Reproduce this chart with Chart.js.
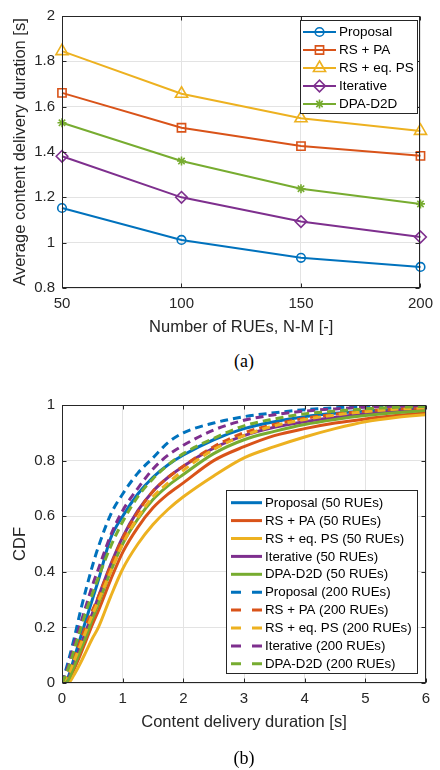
<!DOCTYPE html>
<html lang="en">
<head>
<meta charset="UTF-8" />
<title>Content delivery duration</title>
<style>
  body {
    margin: 0;
    background: #fff;
    width: 440px;
    height: 770px;
    position: relative;
    overflow: hidden;
    font-family: 'Liberation Sans', Arial, sans-serif;
  }
  .panel { position: absolute; left: 0; width: 440px; }
  #wrapA { top: 0; height: 345px; }
  #wrapB { top: 380px; height: 390px; }
  .caption {
    position: absolute;
    left: 62px;
    width: 364px;
    text-align: center;
    font-family: 'Liberation Serif', 'Times New Roman', serif;
    font-size: 18px;
    line-height: 22px;
    color: #000;
  }
</style>
<script src="https://cdn.jsdelivr.net/npm/chart.js"></script>
</head>
<body>
<div class="panel" id="wrapA"><canvas id="chartA" width="440" height="345"></canvas></div>
<div class="caption" style="top:350px">(a)</div>
<div class="panel" id="wrapB"><canvas id="chartB" width="440" height="390"></canvas></div>
<div class="caption" style="top:747px">(b)</div>

<script>
// ---- (a) average duration vs number of RUEs ----
const rueCounts = [50, 100, 150, 200];
const durProposal = [1.153, 1.012, 0.933, 0.893];
const durRsPa = [1.661, 1.507, 1.426, 1.383];
const durRsEqPs = [1.845, 1.657, 1.549, 1.493];
const durIterative = [1.381, 1.200, 1.093, 1.025];
const durDpaD2d = [1.529, 1.360, 1.238, 1.171];
const xTicksA = [50, 100, 150, 200];
const yTicksA = [0.8, 1, 1.2, 1.4, 1.6, 1.8, 2];

// ---- (b) CDF of content delivery duration ----
const cdfTimes = [0, 0.1, 0.2, 0.3, 0.4, 0.5, 0.6, 0.8, 1.0, 1.25, 1.5, 1.75, 2, 2.5, 3, 3.5, 4, 4.5, 5, 5.5, 6];
const cdfProposal50  = [0, 0.02, 0.09, 0.16, 0.23, 0.30, 0.37, 0.52, 0.60, 0.68, 0.74, 0.785, 0.82, 0.875, 0.915, 0.94, 0.958, 0.97, 0.978, 0.985, 0.99];
const cdfRsPa50      = [0, 0, 0.05, 0.10, 0.155, 0.21, 0.26, 0.37, 0.47, 0.56, 0.63, 0.68, 0.72, 0.80, 0.85, 0.89, 0.915, 0.935, 0.95, 0.962, 0.972];
const cdfRsEqPs50    = [0, 0, 0.03, 0.07, 0.115, 0.16, 0.20, 0.31, 0.41, 0.50, 0.57, 0.625, 0.67, 0.745, 0.81, 0.85, 0.885, 0.915, 0.94, 0.955, 0.965];
const cdfIterative50 = [0, 0.015, 0.07, 0.13, 0.19, 0.25, 0.31, 0.425, 0.525, 0.62, 0.69, 0.74, 0.78, 0.845, 0.89, 0.92, 0.94, 0.956, 0.968, 0.978, 0.985];
const cdfDpaD2d50    = [0, 0.01, 0.06, 0.115, 0.17, 0.23, 0.285, 0.40, 0.50, 0.59, 0.66, 0.71, 0.75, 0.825, 0.875, 0.905, 0.93, 0.948, 0.962, 0.972, 0.98];
const cdfProposal200  = [0, 0.075, 0.16, 0.255, 0.34, 0.42, 0.49, 0.605, 0.68, 0.755, 0.81, 0.865, 0.90, 0.935, 0.958, 0.972, 0.983, 0.99, 0.995, 0.998, 1.0];
const cdfRsPa200      = [0, 0.035, 0.09, 0.15, 0.21, 0.26, 0.31, 0.42, 0.52, 0.615, 0.69, 0.74, 0.78, 0.85, 0.90, 0.93, 0.952, 0.967, 0.978, 0.986, 0.99];
const cdfRsEqPs200    = [0, 0.03, 0.08, 0.135, 0.19, 0.245, 0.295, 0.40, 0.50, 0.595, 0.67, 0.72, 0.765, 0.84, 0.89, 0.925, 0.948, 0.964, 0.976, 0.985, 0.99];
const cdfIterative200 = [0, 0.06, 0.14, 0.21, 0.28, 0.35, 0.41, 0.53, 0.62, 0.70, 0.77, 0.82, 0.855, 0.91, 0.945, 0.965, 0.978, 0.986, 0.992, 0.996, 0.998];
const cdfDpaD2d200    = [0, 0.05, 0.12, 0.19, 0.26, 0.32, 0.38, 0.49, 0.58, 0.67, 0.735, 0.785, 0.825, 0.88, 0.925, 0.95, 0.968, 0.978, 0.986, 0.992, 0.995];
const xTicksB = [0, 1, 2, 3, 4, 5, 6];
const yTicksB = [0, 0.2, 0.4, 0.6, 0.8, 1];

const schemes = ['Proposal', 'RS + PA', 'RS + eq. PS', 'Iterative', 'DPA-D2D'];
const colors = ['#0072BD', '#D95319', '#EDB120', '#7E2F8E', '#77AC30'];

const INK = '#262626';
const GRID = '#e3e3e3';
const FONT = "'Liberation Sans', Arial, sans-serif";

// box around the plot with inward tick marks on all four sides
function drawFrame(chart) {
  const { ctx, chartArea: a, scales } = chart;
  const L = Math.round(a.left) + 0.5, R = Math.round(a.right) - 0.5;
  const T = Math.round(a.top) + 0.5, B = Math.round(a.bottom) - 0.5;
  ctx.save();
  ctx.strokeStyle = INK;
  ctx.lineWidth = 1;
  ctx.setLineDash([]);
  ctx.strokeRect(L, T, R - L, B - T);
  ctx.beginPath();
  scales.x.ticks.forEach(t => {
    const px = Math.round(scales.x.getPixelForValue(t.value)) + 0.5;
    ctx.moveTo(px, B); ctx.lineTo(px, B - 4);
    ctx.moveTo(px, T); ctx.lineTo(px, T + 4);
  });
  scales.y.ticks.forEach(t => {
    const py = Math.round(scales.y.getPixelForValue(t.value)) + 0.5;
    ctx.moveTo(L, py); ctx.lineTo(L + 4, py);
    ctx.moveTo(R, py); ctx.lineTo(R - 4, py);
  });
  ctx.stroke();
  ctx.restore();
}

// legend box inside the plot, styled from the datasets
function drawLegend(chart, box) {
  const ctx = chart.ctx;
  ctx.save();
  ctx.fillStyle = '#fff';
  ctx.fillRect(box.x0, box.y0, box.x1 - box.x0, box.y1 - box.y0);
  ctx.strokeStyle = INK;
  ctx.lineWidth = 1;
  ctx.strokeRect(box.x0 + 0.5, box.y0 + 0.5, box.x1 - box.x0, box.y1 - box.y0);
  chart.data.datasets.forEach((ds, i) => {
    const y = box.first + box.step * i;
    ctx.strokeStyle = ds.borderColor;
    ctx.lineWidth = ds.borderWidth;
    ctx.setLineDash(ds.borderDash && ds.borderDash.length ? box.dash : []);
    ctx.beginPath();
    ctx.moveTo(box.lineX0, y);
    ctx.lineTo(box.lineX1, y);
    ctx.stroke();
    ctx.setLineDash([]);
    if (ds.pointRadius > 0 && Chart.helpers && Chart.helpers.drawPoint) {
      ctx.fillStyle = 'rgba(0,0,0,0)';
      ctx.lineWidth = ds.pointBorderWidth;
      Chart.helpers.drawPoint(ctx, {
        pointStyle: ds.pointStyle, radius: ds.pointRadius, rotation: 0,
        borderWidth: ds.pointBorderWidth
      }, (box.lineX0 + box.lineX1) / 2, y);
    }
    ctx.fillStyle = '#000';
    ctx.font = box.font + 'px ' + FONT;
    ctx.textBaseline = 'middle';
    ctx.textAlign = 'left';
    ctx.fillText(ds.label, box.textX, y + 0.5);
  });
  ctx.restore();
}

function axisSetup(ticks, title, titlePad, fitSize, isX) {
  return {
    type: 'linear',
    min: ticks[0],
    max: ticks[ticks.length - 1],
    afterBuildTicks: s => { s.ticks = ticks.map(v => ({ value: v })); },
    afterFit: s => { if (isX) s.height = fitSize; else s.width = fitSize; },
    grid: { color: GRID, lineWidth: 1, drawTicks: false },
    border: { display: false },
    ticks: {
      color: INK,
      padding: 7,
      maxRotation: 0,
      autoSkip: false,
      font: { family: FONT, size: 15 },
      callback: v => String(v)
    },
    title: {
      display: true,
      text: title,
      color: INK,
      padding: titlePad,
      font: { family: FONT, size: 16.5, lineHeight: 1.2 }
    }
  };
}

// ---- chart (a) ----
const seriesA = [durProposal, durRsPa, durRsEqPs, durIterative, durDpaD2d];
const markersA = [
  { style: 'circle', r: 4.3 },
  { style: 'rect', r: 5.8 },
  { style: 'triangle', r: 7 },
  { style: 'rectRot', r: 5.8 },
  { style: 'star', r: 4.5 }
];

new Chart(document.getElementById('chartA'), {
  type: 'line',
  data: {
    datasets: seriesA.map((vals, i) => ({
      label: schemes[i],
      data: rueCounts.map((n, k) => ({ x: n, y: vals[k] })),
      borderColor: colors[i],
      borderWidth: 2,
      pointStyle: markersA[i].style,
      pointRadius: markersA[i].r,
      pointBorderWidth: 1.6,
      pointBorderColor: colors[i],
      pointBackgroundColor: 'rgba(0,0,0,0)',
      tension: 0,
      clip: false,
      order: 10 - i
    }))
  },
  options: {
    responsive: false,
    animation: false,
    layout: { padding: { top: 12, right: 14, left: 0, bottom: 0 } },
    plugins: { legend: { display: false }, tooltip: { enabled: false } },
    scales: {
      x: axisSetup(xTicksA, 'Number of RUEs, N-M [-]', { top: 0, bottom: 8 }, 57, true),
      y: axisSetup(yTicksA, 'Average content delivery duration [s]', { top: 11, bottom: 0 }, 62, false)
    }
  },
  plugins: [{
    id: 'frameA',
    afterDraw(chart) {
      drawFrame(chart);
      drawLegend(chart, {
        x0: 300, y0: 20, x1: 417, y1: 113, font: 13.5,
        first: 32, step: 18, lineX0: 303, lineX1: 336, textX: 339, dash: []
      });
    }
  }]
});

// ---- chart (b) ----
const seriesB = [
  cdfProposal50, cdfRsPa50, cdfRsEqPs50, cdfIterative50, cdfDpaD2d50,
  cdfProposal200, cdfRsPa200, cdfRsEqPs200, cdfIterative200, cdfDpaD2d200
];

new Chart(document.getElementById('chartB'), {
  type: 'line',
  data: {
    datasets: seriesB.map((vals, i) => {
      const dashed = i >= 5;
      return {
        label: schemes[i % 5] + (dashed ? ' (200 RUEs)' : ' (50 RUEs)'),
        data: cdfTimes.map((t, k) => ({ x: t, y: vals[k] })),
        borderColor: colors[i % 5],
        borderWidth: 3,
        borderDash: dashed ? [8, 5] : [],
        pointRadius: 0,
        cubicInterpolationMode: 'monotone',
        order: 20 - i
      };
    })
  },
  options: {
    responsive: false,
    animation: false,
    layout: { padding: { top: 25, right: 14, left: 0, bottom: 0 } },
    plugins: { legend: { display: false }, tooltip: { enabled: false } },
    scales: {
      x: axisSetup(xTicksB, 'Content delivery duration [s]', { top: 0, bottom: 38 }, 87, true),
      y: axisSetup(yTicksB, 'CDF', { top: 11, bottom: 0 }, 62, false)
    }
  },
  plugins: [{
    id: 'frameB',
    afterDraw(chart) {
      drawFrame(chart);
      drawLegend(chart, {
        x0: 226, y0: 110, x1: 417, y1: 293, font: 13.3,
        first: 122.7, step: 17.9, lineX0: 231, lineX1: 262, textX: 265, dash: [10, 11]
      });
    }
  }]
});
</script>
</body>
</html>
